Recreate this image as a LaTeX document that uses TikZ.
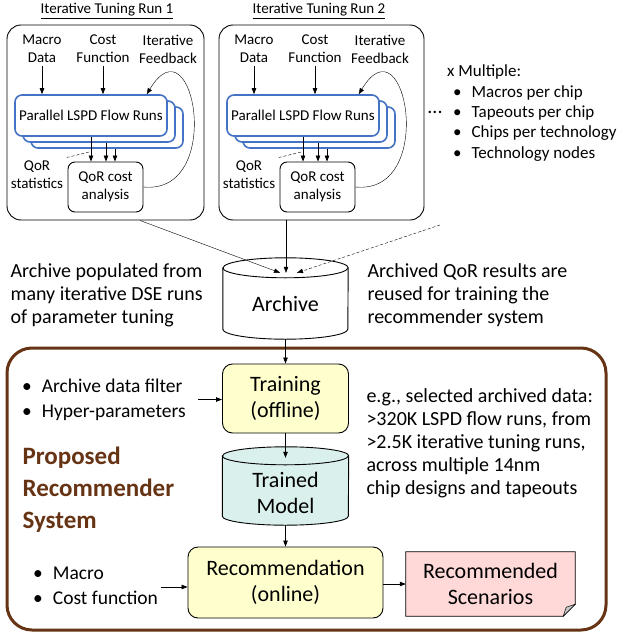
\documentclass[tikz,border=0pt]{standalone}
\usepackage{fontspec}
\setmainfont{Carlito}
\usetikzlibrary{arrows.meta,calc,positioning}

\definecolor{lspdblue}{RGB}{68,114,196}
\definecolor{trainyellow}{RGB}{255,255,206}
\definecolor{modelcyan}{RGB}{218,240,236}
\definecolor{scenpink}{RGB}{255,216,216}
\definecolor{propbrown}{RGB}{102,52,20}

\newcommand{\runfont}{\fontsize{15}{18}\selectfont}
\newcommand{\sidefont}{\fontsize{20}{23}\selectfont}
\newcommand{\boxfont}{\fontsize{22}{26}\selectfont}
\newcommand{\listfont}{\fontsize{17}{20.3}\selectfont}
\newcommand{\bulletfont}{\fontsize{19.5}{25}\selectfont}
\newcommand{\propfont}{\fontsize{25}{32}\selectfont\bfseries}

\begin{document}
\begin{tikzpicture}[x=1pt, y=1pt, >={Triangle[length=6pt,width=4.5pt]},
  runbox/.style={draw, line width=0.9pt, rounded corners=14pt},
  parbox/.style={draw=lspdblue, line width=1.6pt, fill=white, rounded corners=7pt,
    minimum width=152pt, minimum height=41pt, font=\runfont},
  qorbox/.style={draw, line width=0.9pt, fill=white, rounded corners=7pt,
    minimum width=75pt, minimum height=50pt, align=center, font=\runfont},
  runtext/.style={align=center, font=\runfont},
  flow/.style={arrows=->, line width=0.7pt},
  bigbox/.style={draw, line width=0.9pt, rounded corners=10pt, align=center, font=\boxfont},
  sidetext/.style={align=left, font=\sidefont, anchor=west},
  shapeonly/.style={inner sep=0pt}]

  \useasboundingbox (0,0) rectangle (619,-634);

  % The tuning runs
  \foreach \n/\dx/\w in {1/0/197, 2/212/205} {
    \node[font=\runfont] (title\n) at (107+\dx,-11) {\underline{Iterative Tuning Run \n}};
    \node[runbox, minimum width=\w pt, minimum height=195pt] (run\n) at ({7+\dx+\w/2},-122.5) {};
    \node[runtext] (macro\n) at (42+\dx,-49) {Macro\\Data};
    \node[runtext] (cost\n) at (103+\dx,-49) {Cost\\Function};
    \node[runtext] (iter\n) at (168+\dx,-49) {Iterative\\Feedback};
    \node[parbox] (parc\n) at (107+\dx,-127.5) {};
    \node[parbox] (parb\n) at (99+\dx,-121.5) {};
    \node[parbox] (para\n) at (91+\dx,-115.5) {Parallel LSPD Flow Runs};
    \node[qorbox] (qor\n) at (105.5+\dx,-187) {QoR cost\\analysis};
    \node[runtext] (stat\n) at (37+\dx,-175) {QoR\\statistics};
    \coordinate (outb\n) at ([xshift=7pt]parb\n.south);
    \coordinate (outc\n) at ([xshift=8pt]parc\n.south);

    \draw[flow] (macro\n) -- (macro\n |- para\n.north);
    \draw[flow] (cost\n) -- (cost\n |- para\n.north);
    \draw[flow] (para\n.south) -- (para\n.south |- qor\n.north);
    \draw[flow] (outb\n) -- (outb\n |- qor\n.north);
    \draw[flow] (outc\n) -- (outc\n |- qor\n.north);
    \draw[densely dashed, thin] (stat\n.north east) -- ([xshift=-1pt,yshift=-15pt]para\n.south);
    % feedback loop
    \draw[flow, thin] (qor\n.east) .. controls +(82,-8) and +(47,78) .. ([xshift=-21pt]para\n.north east);
  }

  \node[font=\sidefont] (dots) at (435,-112) {...};
  \node[font=\listfont, anchor=west, inner sep=0pt] (mult) at (447,-113.5) {%
    \begin{tabular}{@{}l@{\hspace{10pt}}l@{}}
      \multicolumn{2}{@{}l@{}}{x Multiple:}\\
      \hspace{6pt}\textbullet & Macros per chip\\
      \hspace{6pt}\textbullet & Tapeouts per chip\\
      \hspace{6pt}\textbullet & Chips per technology\\
      \hspace{6pt}\textbullet & Technology nodes
    \end{tabular}};

  % Archive
  \node[shapeonly, minimum width=125pt, minimum height=81pt] (arch) at (285.5,-298.5) {};
  \draw[fill=white, line width=0.9pt] ($(arch.north west)+(0,-10)$) -- ($(arch.south west)+(0,10)$)
    arc[start angle=180, end angle=360, x radius=62.5, y radius=10] -- ($(arch.north east)+(0,-10)$)
    arc[start angle=0, end angle=180, x radius=62.5, y radius=10] -- cycle;
  \draw[line width=0.9pt] ($(arch.north west)+(0,-10)$) arc[start angle=180, end angle=360, x radius=62.5, y radius=10];
  \node[font=\boxfont] (archtxt) at ($(arch)+(0,-5.5)$) {Archive};

  \coordinate (more) at (440,-225);
  \draw[flow, thin] ([xshift=34.5pt]run1.south) -- ([xshift=-5.5pt,yshift=-15pt]arch.north);
  \draw[flow, thin] ([xshift=-35.5pt]run2.south) -- ([xshift=0.5pt,yshift=-15pt]arch.north);
  \draw[flow, thin, densely dashed] (more) -- ([xshift=11.5pt,yshift=-15pt]arch.north);

  \node[sidetext] (populated) at (7,-295) {Archive populated from\\many iterative DSE runs\\of parameter tuning};
  \node[sidetext] (reused) at (364,-295) {Archived QoR results are\\reused for training the\\recommender system};

  % Proposed recommender system
  \draw[draw=propbrown, line width=3pt, rounded corners=25pt] (7,-348) rectangle (606,-630);
  \node[font=\propfont, text=propbrown, anchor=west, align=left] (propsys) at (19,-490) {Proposed\\Recommender\\System};

  \node[bigbox, fill=trainyellow, minimum width=126pt, minimum height=69pt] (train) at (285.5,-398.5) {Training\\(offline)};
  \draw[flow] (arch.south) -- (train.north);

  \node[font=\bulletfont, anchor=west, inner sep=0pt] (filter) at (22,-399.5) {%
    \begin{tabular}{@{}l@{\hspace{10pt}}l@{}}
      \textbullet & Archive data filter\\
      \textbullet & Hyper-parameters
    \end{tabular}};
  \draw[flow] ([xshift=12pt]filter.east) -- (filter.east -| train.west);

  \node[sidetext] (selected) at (363,-443.5) {e.g., selected archived data:\\>320K LSPD flow runs, from\\>2.5K iterative tuning runs,\\across multiple 14nm\\chip designs and tapeouts};

  \node[shapeonly, minimum width=126pt, minimum height=78pt] (model) at (285.5,-486) {};
  \draw[fill=modelcyan, line width=0.9pt] ($(model.north west)+(0,-9)$) -- ($(model.south west)+(0,9)$)
    arc[start angle=180, end angle=360, x radius=63, y radius=9] -- ($(model.north east)+(0,-9)$)
    arc[start angle=0, end angle=180, x radius=63, y radius=9] -- cycle;
  \draw[line width=0.9pt] ($(model.north west)+(0,-9)$) arc[start angle=180, end angle=360, x radius=63, y radius=9];
  \node[font=\boxfont, align=center] (modeltxt) at ($(model)+(0,-7)$) {Trained\\Model};
  \draw[flow] (train.south) -- ([yshift=-11pt]model.north);

  \node[bigbox, fill=trainyellow, minimum width=195pt, minimum height=71pt] (recm) at (285.5,-582.5) {Recommendation\\(online)};
  \draw[flow] (model.south) -- (recm.north);

  \node[font=\bulletfont, anchor=west, inner sep=0pt] (inputs) at (33,-587) {%
    \begin{tabular}{@{}l@{\hspace{10pt}}l@{}}
      \textbullet & Macro\\
      \textbullet & Cost function
    \end{tabular}};
  \draw[flow] ([xshift=3pt]inputs.east) -- (inputs.east -| recm.west);

  % Recommended scenarios, folded note
  \node[shapeonly, minimum width=169pt, minimum height=64pt] (scen) at (490.5,-584) {};
  \draw[fill=scenpink, line width=0.7pt] (scen.north west) -- (scen.north east) -- ($(scen.south east)+(0,12)$)
    -- ($(scen.south east)+(-12,0)$) -- (scen.south west) -- cycle;
  \draw[fill=gray!45, line width=0.5pt] ($(scen.south east)+(-12,0)$) -- ($(scen.south east)+(0,12)$)
    -- ($(scen.south east)+(-9,9)$) -- cycle;
  \node[font=\boxfont, align=center] (scentxt) at (scen) {Recommended\\Scenarios};
  \draw[flow] (scen.west -| recm.east) -- (scen.west);

\end{tikzpicture}
\end{document}
